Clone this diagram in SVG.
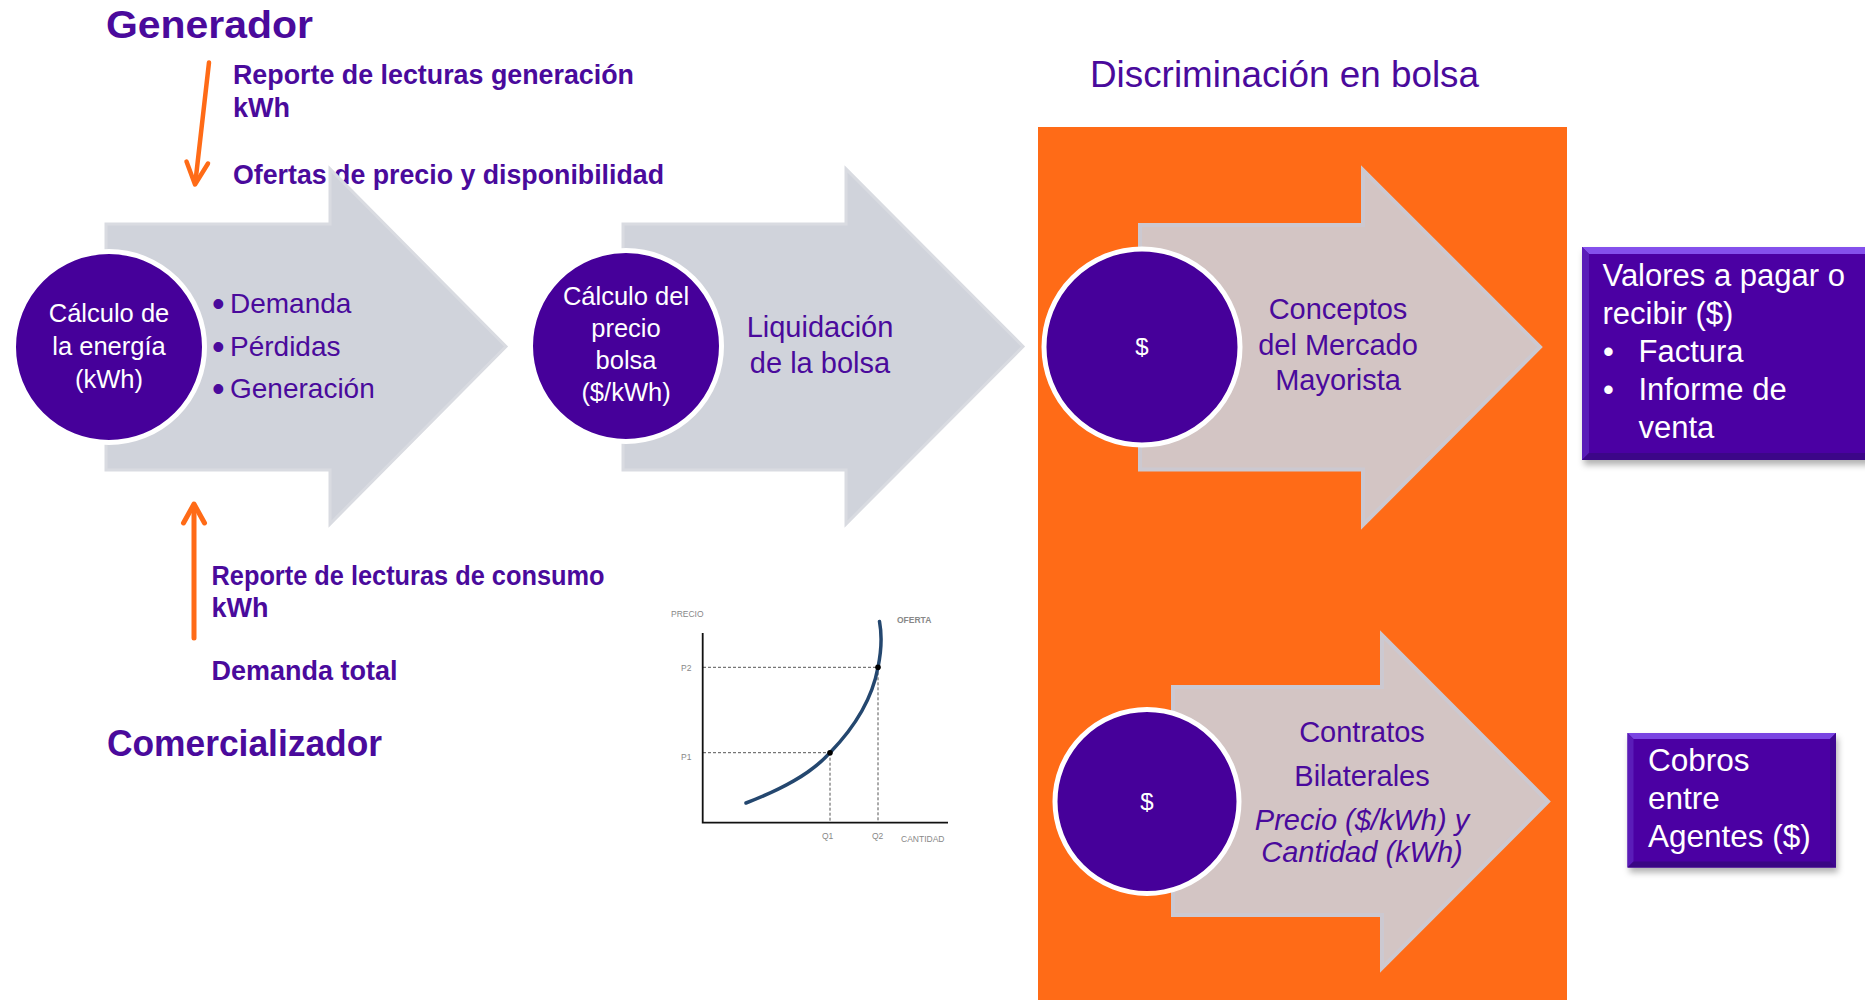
<svg xmlns="http://www.w3.org/2000/svg" width="1865" height="1000" viewBox="0 0 1865 1000">
<defs>
<style>
.t{font-family:"Liberation Sans",Arial,sans-serif;}
.title{font-family:"Liberation Sans",Arial,sans-serif;font-weight:bold;fill:#4A0A9C;}
.lbl{font-family:"Liberation Sans",Arial,sans-serif;font-weight:bold;fill:#4A0A9C;font-size:27px;}
.pur{font-family:"Liberation Sans",Arial,sans-serif;fill:#4A0A9C;}
.wht{font-family:"Liberation Sans",Arial,sans-serif;fill:#FFFFFF;}
.gray{fill:#D0D3DB;stroke:#D9DBE1;stroke-width:3;stroke-linejoin:miter;}
.rose{fill:#D3C5C4;stroke:#CCC9D1;stroke-width:4;stroke-linejoin:miter;}
.circ{fill:#46009A;stroke:#FFFFFF;stroke-width:5;}
.orl{stroke:#FF6B17;fill:none;stroke-linecap:round;stroke-linejoin:round;}
.ax{stroke:#111;stroke-width:1.8;fill:none;}
.dash{stroke:#555;stroke-width:1;stroke-dasharray:3 2;fill:none;}
.cl{font-family:"Liberation Sans",Arial,sans-serif;fill:#888;font-size:8.5px;}
</style>
<filter id="sh" x="-10%" y="-10%" width="130%" height="140%">
<feDropShadow dx="2" dy="5" stdDeviation="3" flood-color="#000" flood-opacity="0.3"/>
</filter>
</defs>
<rect x="0" y="0" width="1865" height="1000" fill="#FFFFFF"/>

<!-- orange panel -->
<rect id="panel" x="1038" y="127" width="529" height="873" fill="#FF6B17"/>

<!-- titles -->
<text class="title" x="106" y="38" font-size="38.5" textLength="207" lengthAdjust="spacingAndGlyphs">Generador</text>
<text class="title" x="107" y="756" font-size="36.5" textLength="275" lengthAdjust="spacingAndGlyphs">Comercializador</text>
<text class="pur" x="1090" y="87" font-size="37" textLength="389" lengthAdjust="spacingAndGlyphs">Discriminación en bolsa</text>

<!-- labels -->
<g id="labels-top">
<text class="lbl" x="233" y="84" textLength="401" lengthAdjust="spacingAndGlyphs">Reporte de lecturas generación</text>
<text class="lbl" x="233" y="116.5">kWh</text>
<text class="lbl" x="233" y="184" textLength="431" lengthAdjust="spacingAndGlyphs">Ofertas de precio y disponibilidad</text>
</g>
<g id="labels-bottom">
<text class="lbl" x="211.5" y="585" font-size="25.5" textLength="393" lengthAdjust="spacingAndGlyphs">Reporte de lecturas de consumo</text>
<text class="lbl" x="211.5" y="616.5" font-size="25.5">kWh</text>
<text class="lbl" x="211.5" y="680" font-size="25.5">Demanda total</text>
</g>

<!-- step 1 -->
<g id="step1">
<polygon class="gray" points="106,224 330,224 330,169 506,346.5 330,524 330,470 106,470"/>
<circle class="circ" cx="109" cy="347" r="95.5"/>
<g class="wht" font-size="25.5" text-anchor="middle">
<text x="109" y="322">Cálculo de</text>
<text x="109" y="355">la energía</text>
<text x="109" y="388">(kWh)</text>
</g>
<g class="pur" font-size="28">
<text x="212" y="316" font-size="36">•</text>
<text x="230" y="313">Demanda</text>
<text x="212" y="358.5" font-size="36">•</text>
<text x="230" y="355.5">Pérdidas</text>
<text x="212" y="401" font-size="36">•</text>
<text x="230" y="398">Generación</text>
</g>
</g>

<!-- step 2 -->
<g id="step2">
<polygon class="gray" points="623,224 846,224 846,169 1023,346.5 846,524 846,470 623,470"/>
<circle class="circ" cx="626" cy="346" r="95.5"/>
<g class="wht" font-size="25.5" text-anchor="middle">
<text x="626" y="305">Cálculo del</text>
<text x="626" y="337">precio</text>
<text x="626" y="369">bolsa</text>
<text x="626" y="401">($/kWh)</text>
</g>
<g class="pur" font-size="29" text-anchor="middle">
<text x="820" y="337">Liquidación</text>
<text x="820" y="372.5">de la bolsa</text>
</g>
</g>

<!-- step 3 -->
<g id="step3">
<polygon class="rose" points="1140,225 1363,225 1363,170 1540,347 1363,525 1363,469.5 1140,469.5"/>
<circle class="circ" cx="1142" cy="347" r="98" stroke-width="6"/>
<text class="wht" x="1142" y="355" font-size="24" text-anchor="middle">$</text>
<g class="pur" font-size="29" text-anchor="middle">
<text x="1338" y="318.5">Conceptos</text>
<text x="1338" y="355">del Mercado</text>
<text x="1338" y="390">Mayorista</text>
</g>
</g>

<!-- step 4 -->
<g id="step4">
<polygon class="rose" points="1173,687 1382,687 1382,635 1548,801.5 1382,968 1382,915 1173,915"/>
<circle class="circ" cx="1147" cy="801.5" r="92" stroke-width="6"/>
<text class="wht" x="1147" y="810" font-size="24" text-anchor="middle">$</text>
<g class="pur" font-size="29" text-anchor="middle">
<text x="1362" y="742">Contratos</text>
<text x="1362" y="786">Bilaterales</text>
<text x="1362" y="830" font-style="italic">Precio ($/kWh) y</text>
<text x="1362" y="862" font-style="italic">Cantidad (kWh)</text>
</g>
</g>

<!-- box Valores -->
<g id="valores">
<g filter="url(#sh)">
<rect x="1582" y="247" width="290" height="213" fill="#4B05A3"/>
</g>
<polygon points="1582,247 1872,247 1872,254 1589,254" fill="#8450EC"/>
<polygon points="1582,247 1589,254 1589,453 1582,460" fill="#5A1CB8"/>
<polygon points="1582,460 1589,453 1872,453 1872,460" fill="#3C0688"/>
<g class="wht" font-size="31">
<text x="1602.5" y="285.5">Valores a pagar o</text>
<text x="1602.5" y="323.5">recibir ($)</text>
<text x="1603" y="361.5">•</text>
<text x="1638.5" y="361.5">Factura</text>
<text x="1603" y="400">•</text>
<text x="1638.5" y="400">Informe de</text>
<text x="1638.5" y="437.5">venta</text>
</g>
</g>

<!-- box Cobros -->
<g id="cobros">
<g filter="url(#sh)">
<rect x="1627.5" y="733" width="208.5" height="134.5" fill="#4B05A3"/>
</g>
<polygon points="1627.5,733 1836,733 1830,739 1633.5,739" fill="#7A45E2"/>
<polygon points="1627.5,733 1633.5,739 1633.5,861.5 1627.5,867.5" fill="#5A1CB8"/>
<polygon points="1836,733 1836,867.5 1830,861.5 1830,739" fill="#3E0790"/>
<polygon points="1627.5,867.5 1633.5,861.5 1830,861.5 1836,867.5" fill="#3A0684"/>
<g class="wht" font-size="31.5">
<text x="1648" y="770.5">Cobros</text>
<text x="1648" y="809">entre</text>
<text x="1648" y="847.3">Agentes ($)</text>
</g>
</g>

<!-- supply chart -->
<g id="chart">
<text class="cl" x="671" y="617">PRECIO</text>
<text class="cl" x="897" y="623" fill="#222" font-weight="bold">OFERTA</text>
<text class="cl" x="681" y="671">P2</text>
<text class="cl" x="681" y="760">P1</text>
<text class="cl" x="822" y="839">Q1</text>
<text class="cl" x="872" y="839">Q2</text>
<text class="cl" x="901" y="842">CANTIDAD</text>
<path class="dash" d="M703,667.3 H878 M703,752.7 H830 M830,752.7 V822 M878,667.3 V822"/>
<path class="ax" d="M702.7,633 V822.7 H948"/>
<path d="M746,803 C780,790 810,775 830,752.7 C855,727 872,700 878,667.3 C882,648 882,635 879.5,621.5" fill="none" stroke="#24476F" stroke-width="3.5" stroke-linecap="round"/>
<circle cx="830" cy="752.7" r="2.8" fill="#000"/>
<circle cx="878" cy="667.3" r="2.8" fill="#000"/>
</g>

<!-- connectors -->
<g id="connectors">
<path class="orl" stroke-width="4.5" d="M209,62.5 L195.4,182"/>
<path class="orl" stroke-width="4.5" d="M186.5,161.5 L195,184.5 L208,163.5"/>
<path class="orl" stroke-width="5" stroke-linecap="butt" d="M194,638 L194,507"/>
<path class="orl" stroke-width="5" d="M183.5,523 L194,504 L204.5,523"/>
</g>
</svg>
